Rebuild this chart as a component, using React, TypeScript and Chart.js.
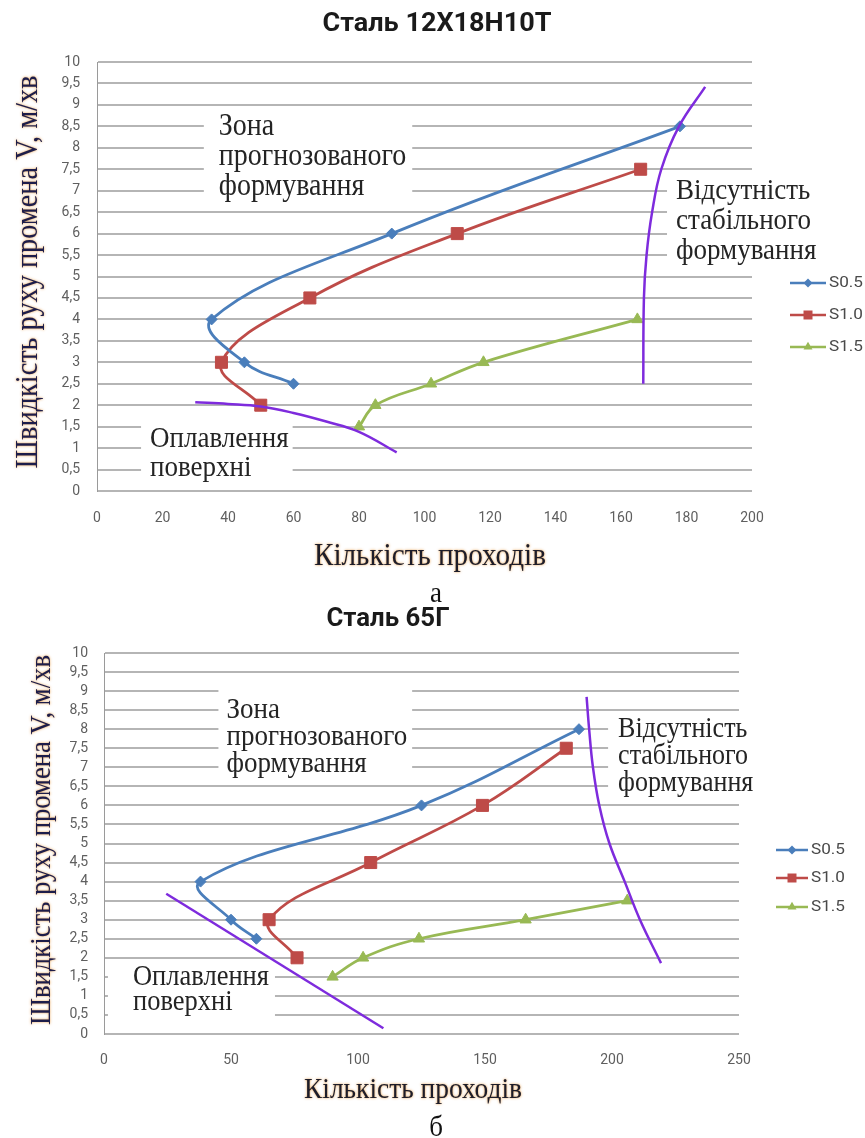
import React, { useEffect, useRef } from "react";
import { Chart, registerables } from "chart.js";

Chart.register(...registerables);

// ---------- shared labels ----------
const Y_TICKS = ["0", "0,5", "1", "1,5", "2", "2,5", "3", "3,5", "4", "4,5", "5", "5,5", "6", "6,5", "7", "7,5", "8", "8,5", "9", "9,5", "10"];
const SERIES_NAMES = ["S0.5", "S1.0", "S1.5"];
const Y_TITLE = "Швидкість руху промена V, м/хв";
const X_TITLE = "Кількість проходів";
const NOTE_ZONE = ["Зона", "прогнозованого", "формування"];
const NOTE_UNSTABLE = ["Відсутність", "стабільного", "формування"];
const NOTE_MELT = ["Оплавлення", "поверхні"];

// ---------- Сталь 12Х18Н10Т ----------
const A_TITLE = "Сталь 12Х18Н10Т";
const A_CAPTION = "а";
const A_X_TICKS = ["0", "20", "40", "60", "80", "100", "120", "140", "160", "180", "200"];
const A_S05_X = [178, 90, 35, 45, 60];
const A_S05_Y = [8.5, 6, 4, 3, 2.5];
const A_S10_X = [166, 110, 65, 38, 50];
const A_S10_Y = [7.5, 6, 4.5, 3, 2];
const A_S15_X = [165, 118, 102, 85, 80];
const A_S15_Y = [4, 3, 2.5, 2, 1.5];
const A_UPPER_X = [185.7, 177.7, 172.3, 169.5, 167.8, 167, 166.8];
const A_UPPER_Y = [9.42, 8.5, 7.5, 6.5, 5.5, 4.5, 2.5];
const A_LOWER_X = [30, 40, 50, 60, 70, 80, 91.5];
const A_LOWER_Y = [2.07, 2.03, 1.97, 1.82, 1.62, 1.38, 0.9];

// ---------- Сталь 65Г ----------
const B_TITLE = "Сталь 65Г";
const B_CAPTION = "б";
const B_X_TICKS = ["0", "50", "100", "150", "200", "250"];
const B_S05_X = [187, 125, 38, 50, 60];
const B_S05_Y = [8, 6, 4, 3, 2.5];
const B_S10_X = [182, 149, 105, 65, 76];
const B_S10_Y = [7.5, 6, 4.5, 3, 2];
const B_S15_X = [206, 166, 124, 102, 90];
const B_S15_Y = [3.5, 3, 2.5, 2, 1.5];
const B_UPPER_X = [190, 191, 192.5, 195, 199, 205, 211, 219.3];
const B_UPPER_Y = [8.85, 8, 7, 6, 5, 4, 3, 1.86];
const B_LOWER_X = [24.5, 110];
const B_LOWER_Y = [3.68, 0.15];

const COLORS = ["#4A7EBB", "#BE4B48", "#98B954"];
const SHAPES = ["rectRot", "rect", "triangle"];
const RADII = [5.5, 8.5, 6.5];
const BOUNDARY = "#7E2BDD";

const zip = (xs: number[], ys: number[]) => xs.map((x, i) => ({ x, y: ys[i] }));

type Note = { lines: string[]; x: number; y: number; size: number; lh: number; pad: number[] };
type PanelCfg = {
  top: number;
  height: number;
  area: { left: number; top: number; right: number; bottom: number };
  xMax: number;
  xStep: number;
  xTicks: string[];
  xTickPad: number;
  yTickPad: number;
  series: { x: number[]; y: number[] }[];
  bounds: { x: number[]; y: number[]; tension: number }[];
  title: { text: string; x: number; y: number; w: number };
  yTitle: { x: number; y: number; w: number; size: number };
  xTitle: { x: number; y: number; w: number; size: number };
  legend: { x1: number; x2: number; tx: number; ys: number[] };
  notes: Note[];
};

const PANEL_A: PanelCfg = {
  top: 0,
  height: 580,
  area: { left: 97, top: 62, right: 752, bottom: 491 },
  xMax: 200,
  xStep: 20,
  xTicks: A_X_TICKS,
  xTickPad: 19,
  yTickPad: 17,
  series: [
    { x: A_S05_X, y: A_S05_Y },
    { x: A_S10_X, y: A_S10_Y },
    { x: A_S15_X, y: A_S15_Y },
  ],
  bounds: [
    { x: A_UPPER_X, y: A_UPPER_Y, tension: 0.4 },
    { x: A_LOWER_X, y: A_LOWER_Y, tension: 0.4 },
  ],
  title: { text: A_TITLE, x: 437, y: 24, w: 229 },
  yTitle: { x: 29, y: 272, w: 393, size: 28 },
  xTitle: { x: 430, y: 557, w: 232, size: 28 },
  legend: { x1: 790, x2: 826, tx: 829, ys: [283, 315, 347] },
  notes: [
    { lines: NOTE_ZONE, x: 37.2, y: 8.5, size: 28, lh: 30, pad: [15, 6, 16, 15] },
    { lines: NOTE_UNSTABLE, x: 176.8, y: 7, size: 27, lh: 30, pad: [15, 12, 12, 9] },
    { lines: NOTE_MELT, x: 16.2, y: 1.2, size: 27, lh: 29, pad: [21, 4, 12, 9] },
  ],
};

const PANEL_B: PanelCfg = {
  top: 595,
  height: 520,
  area: { left: 104, top: 58, right: 739, bottom: 439 },
  xMax: 250,
  xStep: 50,
  xTicks: B_X_TICKS,
  xTickPad: 18,
  yTickPad: 16,
  series: [
    { x: B_S05_X, y: B_S05_Y },
    { x: B_S10_X, y: B_S10_Y },
    { x: B_S15_X, y: B_S15_Y },
  ],
  bounds: [
    { x: B_UPPER_X, y: B_UPPER_Y, tension: 0.4 },
    { x: B_LOWER_X, y: B_LOWER_Y, tension: 0 },
  ],
  title: { text: B_TITLE, x: 388, y: 24, w: 123 },
  yTitle: { x: 42, y: 245, w: 370, size: 27 },
  xTitle: { x: 413, y: 495, w: 218, size: 27 },
  legend: { x1: 776, x2: 808, tx: 811, ys: [255, 283, 312] },
  notes: [
    { lines: NOTE_ZONE, x: 48.2, y: 8.5, size: 27, lh: 27, pad: [30, 5, 13, 8] },
    { lines: NOTE_UNSTABLE, x: 202.4, y: 8, size: 26, lh: 27, pad: [11, 8, 13, 10] },
    { lines: NOTE_MELT, x: 11.4, y: 1.5, size: 26.5, lh: 25, pad: [12, 6, 20, 25] },
  ],
};

type TextOpts = {
  font: string;
  color: string;
  align?: CanvasTextAlign;
  w?: number;
  sy?: number;
  rot?: boolean;
  glow?: boolean;
};

function drawText(ctx: CanvasRenderingContext2D, text: string, x: number, y: number, o: TextOpts) {
  ctx.save();
  ctx.translate(x, y);
  if (o.rot) ctx.rotate(-Math.PI / 2);
  ctx.font = o.font;
  const m = ctx.measureText(text).width;
  const sx = o.w ? o.w / m : 1;
  ctx.scale(sx, o.sy ?? 1);
  ctx.textAlign = o.align ?? "center";
  ctx.textBaseline = "middle";
  if (o.glow) {
    ctx.shadowColor = "rgba(226, 140, 40, 0.9)";
    ctx.shadowBlur = 2.5;
  }
  ctx.fillStyle = o.color;
  ctx.fillText(text, 0, 0);
  ctx.restore();
}

function drawMarker(ctx: CanvasRenderingContext2D, shape: string, x: number, y: number, color: string) {
  ctx.save();
  ctx.fillStyle = color;
  ctx.beginPath();
  if (shape === "rectRot") {
    const r = 4.5;
    ctx.moveTo(x, y - r);
    ctx.lineTo(x + r, y);
    ctx.lineTo(x, y + r);
    ctx.lineTo(x - r, y);
  } else if (shape === "rect") {
    const h = 4.5;
    ctx.rect(x - h, y - h, 2 * h, 2 * h);
  } else {
    const s = 9;
    const hh = (s * Math.sqrt(3)) / 2;
    ctx.moveTo(x, y - (2 * hh) / 3);
    ctx.lineTo(x + s / 2, y + hh / 3);
    ctx.lineTo(x - s / 2, y + hh / 3);
  }
  ctx.closePath();
  ctx.fill();
  ctx.restore();
}

const serif = (size: number) => `${size}px "Liberation Serif", "DejaVu Serif", serif`;

function makeDecor(p: PanelCfg) {
  return {
    id: "decor",
    beforeDatasetsDraw(chart: any) {
      const ctx: CanvasRenderingContext2D = chart.ctx;
      const xs = chart.scales.x;
      const ys = chart.scales.y;
      for (const n of p.notes) {
        const px = xs.getPixelForValue(n.x);
        const py = ys.getPixelForValue(n.y);
        ctx.save();
        ctx.font = serif(n.size);
        const w = Math.max(...n.lines.map((l) => ctx.measureText(l).width));
        const [pt, pr, pb, pl] = n.pad;
        ctx.fillStyle = "#ffffff";
        ctx.fillRect(px - pl, py - pt, w + pl + pr, (n.lines.length - 1) * n.lh + pt + pb);
        ctx.restore();
        n.lines.forEach((line, i) =>
          drawText(ctx, line, px, py + i * n.lh, { font: serif(n.size), color: "#242424", align: "left", sy: 1.12 })
        );
      }
    },
    afterDraw(chart: any) {
      const ctx: CanvasRenderingContext2D = chart.ctx;
      drawText(ctx, p.title.text, p.title.x, p.title.y, {
        font: 'bold 24px Roboto, "Liberation Sans", sans-serif',
        color: "#1a1a1a",
        w: p.title.w,
        sy: 1.1,
      });
      drawText(ctx, Y_TITLE, p.yTitle.x, p.yTitle.y, {
        font: serif(p.yTitle.size),
        color: "#1d1d4a",
        w: p.yTitle.w,
        sy: 1.12,
        rot: true,
        glow: true,
      });
      drawText(ctx, X_TITLE, p.xTitle.x, p.xTitle.y, {
        font: serif(p.xTitle.size),
        color: "#1d1d2a",
        w: p.xTitle.w,
        sy: 1.1,
        glow: true,
      });
      const { x1, x2, tx, ys } = p.legend;
      chart.data.datasets.forEach((ds: any, i: number) => {
        if (!ds.label) return;
        const y = ys[i];
        ctx.save();
        ctx.strokeStyle = ds.borderColor;
        ctx.lineWidth = 2.5;
        ctx.beginPath();
        ctx.moveTo(x1, y);
        ctx.lineTo(x2, y);
        ctx.stroke();
        ctx.restore();
        drawMarker(ctx, SHAPES[i], (x1 + x2) / 2, y, ds.borderColor);
        drawText(ctx, ds.label, tx, y, {
          font: '14px Roboto, "Liberation Sans", sans-serif',
          color: "#4a4a4a",
          align: "left",
          w: 34,
        });
      });
    },
  };
}

function buildConfig(p: PanelCfg): any {
  const tickFont = { family: 'Roboto, "Liberation Sans", sans-serif', size: 14 };
  const datasets: any[] = [
    ...p.series.map((s, i) => ({
      label: SERIES_NAMES[i],
      data: zip(s.x, s.y),
      showLine: true,
      tension: 0.4,
      borderColor: COLORS[i],
      backgroundColor: COLORS[i],
      borderWidth: 2.8,
      pointStyle: SHAPES[i],
      pointRadius: RADII[i],
      pointBorderWidth: 1,
      pointBorderColor: COLORS[i],
      pointBackgroundColor: COLORS[i],
      order: 1,
    })),
    ...p.bounds.map((b) => ({
      data: zip(b.x, b.y),
      showLine: true,
      tension: b.tension,
      borderColor: BOUNDARY,
      borderWidth: 2.5,
      pointRadius: 0,
      order: 0,
    })),
  ];
  return {
    type: "scatter",
    data: { datasets },
    plugins: [makeDecor(p)],
    options: {
      responsive: false,
      animation: false,
      devicePixelRatio: 1,
      events: [],
      layout: { padding: { left: 8, top: p.area.top, right: 865 - p.area.right, bottom: 0 } },
      plugins: { legend: { display: false }, title: { display: false }, tooltip: { enabled: false } },
      scales: {
        x: {
          type: "linear",
          min: 0,
          max: p.xMax,
          ticks: {
            stepSize: p.xStep,
            autoSkip: false,
            maxRotation: 0,
            padding: p.xTickPad,
            color: "#5f5f5f",
            font: tickFont,
            callback: (_v: number, i: number) => p.xTicks[i],
          },
          grid: { display: false, drawTicks: false },
          border: { display: false },
          afterFit: (s: any) => {
            s.height = p.height - p.area.bottom;
          },
        },
        y: {
          type: "linear",
          min: 0,
          max: 10,
          ticks: {
            stepSize: 0.5,
            autoSkip: false,
            padding: p.yTickPad,
            color: "#5f5f5f",
            font: tickFont,
            callback: (_v: number, i: number) => Y_TICKS[i],
          },
          grid: { color: "#b5b5b5", lineWidth: 2, drawTicks: false },
          border: { display: true, color: "#9a9a9a", width: 1 },
          afterFit: (s: any) => {
            s.width = p.area.left - 8;
          },
        },
      },
    },
  };
}

function Panel({ cfg }: { cfg: PanelCfg }) {
  const ref = useRef<HTMLCanvasElement>(null);
  useEffect(() => {
    const chart = new Chart(ref.current as HTMLCanvasElement, buildConfig(cfg));
    return () => chart.destroy();
  }, [cfg]);
  return (
    <canvas
      ref={ref}
      width={865}
      height={cfg.height}
      style={{ position: "absolute", left: 0, top: cfg.top, width: 865, height: cfg.height }}
    />
  );
}

function Caption({ text, y }: { text: string; y: number }) {
  return (
    <div
      style={{
        position: "absolute",
        left: 386,
        width: 100,
        top: y - 15,
        height: 30,
        lineHeight: "30px",
        textAlign: "center",
        fontFamily: '"Liberation Serif", serif',
        fontSize: 27,
        color: "#111",
        transform: "scaleY(1.1)",
      }}
    >
      {text}
    </div>
  );
}

export default function App() {
  return (
    <div
      style={{
        position: "absolute",
        left: 0,
        top: 0,
        width: 865,
        height: 1138,
        overflow: "hidden",
        background: "#ffffff",
      }}
    >
      <Panel cfg={PANEL_A} />
      <Panel cfg={PANEL_B} />
      <Caption text={A_CAPTION} y={592} />
      <Caption text={B_CAPTION} y={1126} />
    </div>
  );
}
